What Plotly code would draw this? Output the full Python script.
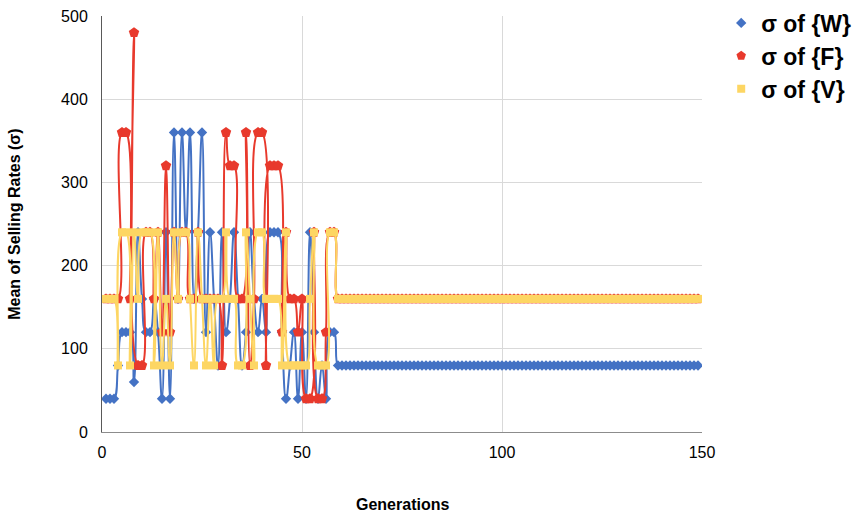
import plotly.graph_objects as go

gens = list(range(1, 150))

w_head = [40, 40, 40, 80, 120, 120, 120, 60, 240, 160,
          120, 120, 160, 120, 40, 240, 40, 360, 160, 360,
          240, 360, 160, 240, 360, 120, 240, 160, 80, 240,
          120, 160, 240, 160, 80, 120, 240, 160, 120, 160,
          120, 240, 240, 240, 120, 40, 80, 120, 40, 120,
          40, 240, 120, 40, 80, 40, 120, 120]
f_head = [160, 160, 160, 160, 360, 360, 160, 480, 80, 80,
          240, 240, 160, 240, 120, 320, 120, 240, 160, 240,
          240, 160, 160, 240, 160, 160, 160, 160, 160, 80,
          360, 320, 320, 160, 160, 360, 80, 160, 360, 360,
          80, 320, 320, 320, 120, 240, 160, 160, 120, 160,
          40, 40, 240, 40, 40, 120, 240, 240]
v_head = [160, 160, 160, 80, 240, 240, 80, 240, 160, 240,
          240, 240, 80, 240, 80, 160, 80, 240, 160, 240,
          240, 160, 80, 240, 160, 80, 160, 80, 160, 160,
          240, 160, 160, 80, 80, 240, 160, 80, 240, 240,
          160, 160, 160, 160, 80, 240, 80, 80, 80, 80,
          80, 160, 240, 80, 80, 80, 240, 240]

tail_len = len(gens) - len(w_head)
w_vals = w_head + [80] * tail_len
f_vals = f_head + [160] * tail_len
v_vals = v_head + [160] * tail_len

series_names = ["σ of {W}", "σ of {F}", "σ of {V}"]
colors = ["#4472C4", "#E8392C", "#FDD663"]
symbols = ["diamond", "pentagon", "square"]
sizes = [8, 11, 8]
legend_sizes = [8, 10, 8]

x_ticks = [0, 50, 100, 150]
y_ticks = [0, 100, 200, 300, 400, 500]

fig = go.Figure()
for i, (name, vals, c, s, sz) in enumerate(zip(series_names, [w_vals, f_vals, v_vals], colors, symbols, sizes)):
    fig.add_trace(go.Scatter(
        x=gens, y=vals, name=name, mode="lines+markers", showlegend=False,
        line=dict(color=c, width=2, shape="spline", smoothing=1.3),
        marker=dict(symbol=s, size=sz, color=c, line=dict(width=0)),
    ))
for i, (name, c, s, sz) in enumerate(zip(series_names, colors, symbols, legend_sizes)):
    fig.add_trace(go.Scatter(
        x=[None], y=[None], name=name, mode="markers", legendgroup=f"g{i}",
        marker=dict(symbol=s, size=sz, color=c, line=dict(width=0)),
    ))

font_family = "Liberation Sans, Arial, sans-serif"
fig.update_layout(
    width=858, height=516,
    paper_bgcolor="white", plot_bgcolor="white",
    margin=dict(l=102, r=156, t=16, b=84, autoexpand=False),
    font=dict(family=font_family, size=16, color="#000000"),
    showlegend=True,
    legend=dict(
        x=1.032, y=1.035, xanchor="left", yanchor="top",
        font=dict(size=23, family=font_family, color="#000000", weight="bold"),
        itemwidth=30, tracegroupgap=0,
        bgcolor="rgba(0,0,0,0)",
    ),
    xaxis=dict(
        range=[0, 150], tickvals=x_ticks, showgrid=True, gridcolor="#D9D9D9",
        gridwidth=1, zeroline=False, showline=True, linecolor="#8C8C8C",
        ticks="", tickfont=dict(size=16), ticklabelstandoff=6,
    ),
    yaxis=dict(
        range=[0, 500], tickvals=y_ticks, showgrid=True, gridcolor="#D9D9D9",
        gridwidth=1, zeroline=False, showline=True, linecolor="#595959",
        ticks="", tickfont=dict(size=16), ticklabelstandoff=10,
    ),
    annotations=[
        dict(text="<b>Generations</b>", x=0.5, y=-0.175, xref="paper", yref="paper",
             showarrow=False, yanchor="middle", font=dict(size=16)),
        dict(text="<b>Mean of Selling Rates (σ)</b>", x=-0.147, y=0.5, xref="paper", yref="paper",
             showarrow=False, textangle=-90, xanchor="center", font=dict(size=16)),
    ],
)

fig.write_html(
    "out.html",
    config={"displayModeBar": False},
    post_script="document.body.style.margin='0px';document.body.style.overflow='hidden';",
)
